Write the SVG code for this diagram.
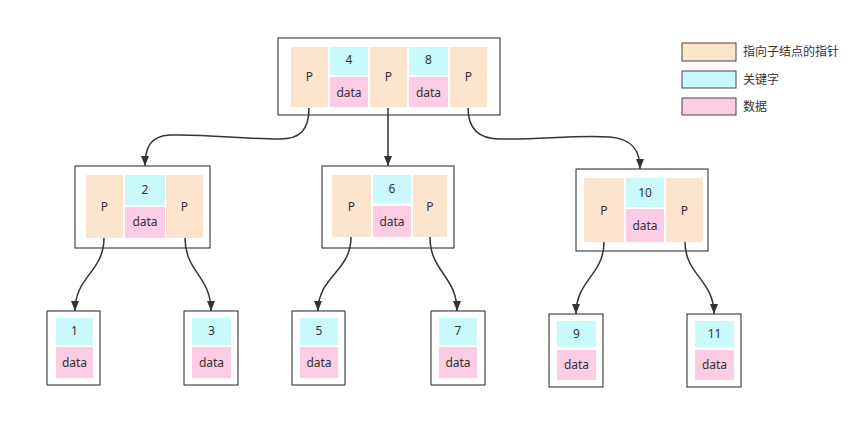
<svg xmlns="http://www.w3.org/2000/svg" width="857" height="437" viewBox="0 0 857 437">
<defs>
<style>
.box{fill:#ffffff;stroke:#222;stroke-width:1}
.p{fill:#fde4cd}
.k{fill:#c9f9fb}
.d{fill:#fbcce3}
.t{font-family:"Noto Sans","Noto Sans CJK SC",sans-serif;font-size:12px;fill:#333;text-anchor:middle}
.lt{font-family:"Noto Sans CJK SC","Noto Sans",sans-serif;font-size:12px;fill:#333}
.lg{stroke:#444;stroke-width:1}
.e{fill:none;stroke:#333;stroke-width:1.5}
</style>
<marker id="arr" markerUnits="userSpaceOnUse" markerWidth="10" markerHeight="10" viewBox="0 0 10 10" refX="10" refY="5" orient="auto">
<path d="M0,1 L10,5 L0,9 z" fill="#333"/>
</marker>
</defs>
<rect width="857" height="437" fill="#ffffff"/>

<g id="legend">
<rect class="p lg" x="682" y="43" width="54" height="18"/>
<text class="lt" x="743" y="56">指向子结点的指针</text>
<rect class="k lg" x="682" y="71" width="54" height="17"/>
<text class="lt" x="743" y="84">关键字</text>
<rect class="d lg" x="682" y="98" width="54" height="17"/>
<text class="lt" x="743" y="111">数据</text>
</g>

<g id="root">
<rect class="box" x="278" y="38" width="222" height="77"/>
<rect class="p" x="291" y="47" width="37" height="60"/>
<rect class="k" x="330" y="47" width="38" height="28"/>
<rect class="d" x="330" y="77" width="38" height="30"/>
<rect class="p" x="370" y="47" width="37" height="60"/>
<rect class="k" x="409" y="47" width="39" height="28"/>
<rect class="d" x="409" y="77" width="39" height="30"/>
<rect class="p" x="450" y="47" width="37" height="60"/>
<text class="t" x="309.5" y="81">P</text>
<text class="t" x="349" y="64">4</text>
<text class="t" x="349" y="97">data</text>
<text class="t" x="388.5" y="81">P</text>
<text class="t" x="428.5" y="64">8</text>
<text class="t" x="428.5" y="97">data</text>
<text class="t" x="468.5" y="81">P</text>
</g>

<g id="node2">
<rect class="box" x="75" y="166" width="135" height="82"/>
<rect class="p" x="86" y="175" width="37" height="63"/>
<rect class="k" x="125" y="175" width="40" height="30"/>
<rect class="d" x="125" y="207" width="40" height="31"/>
<rect class="p" x="166" y="175" width="37" height="63"/>
<text class="t" x="104.5" y="211">P</text>
<text class="t" x="145" y="194">2</text>
<text class="t" x="145" y="226">data</text>
<text class="t" x="184.5" y="211">P</text>
</g>

<g id="node6">
<rect class="box" x="322" y="166" width="132" height="82"/>
<rect class="p" x="332" y="175" width="39" height="62"/>
<rect class="k" x="373" y="175" width="38" height="28"/>
<rect class="d" x="373" y="206" width="38" height="31"/>
<rect class="p" x="413" y="175" width="34" height="62"/>
<text class="t" x="351.5" y="211">P</text>
<text class="t" x="392" y="193">6</text>
<text class="t" x="392" y="226">data</text>
<text class="t" x="430" y="211">P</text>
</g>

<g id="node10">
<rect class="box" x="576" y="169" width="132" height="82"/>
<rect class="p" x="584" y="178" width="40" height="64"/>
<rect class="k" x="626" y="178" width="38" height="29"/>
<rect class="d" x="626" y="209" width="38" height="33"/>
<rect class="p" x="666" y="178" width="37" height="64"/>
<text class="t" x="604" y="215">P</text>
<text class="t" x="645" y="197">10</text>
<text class="t" x="645" y="230">data</text>
<text class="t" x="684.5" y="215">P</text>
</g>

<g id="leaf1">
<rect class="box" x="47" y="311" width="53" height="74"/>
<rect class="k" x="56" y="318" width="37" height="27"/>
<rect class="d" x="56" y="347" width="37" height="31"/>
<text class="t" x="74.5" y="335">1</text>
<text class="t" x="74.5" y="367">data</text>
</g>

<g id="leaf3">
<rect class="box" x="184" y="311" width="54" height="74"/>
<rect class="k" x="192" y="318" width="39" height="27"/>
<rect class="d" x="192" y="347" width="39" height="31"/>
<text class="t" x="211.5" y="335">3</text>
<text class="t" x="211.5" y="367">data</text>
</g>

<g id="leaf5">
<rect class="box" x="292" y="311" width="53" height="74"/>
<rect class="k" x="300" y="318" width="38" height="27"/>
<rect class="d" x="300" y="347" width="38" height="31"/>
<text class="t" x="319" y="335">5</text>
<text class="t" x="319" y="367">data</text>
</g>

<g id="leaf7">
<rect class="box" x="431" y="311" width="54" height="74"/>
<rect class="k" x="439" y="318" width="38" height="27"/>
<rect class="d" x="439" y="347" width="38" height="31"/>
<text class="t" x="458" y="335">7</text>
<text class="t" x="458" y="367">data</text>
</g>

<g id="leaf9">
<rect class="box" x="549" y="314" width="54" height="73"/>
<rect class="k" x="557" y="321" width="39" height="26"/>
<rect class="d" x="557" y="350" width="39" height="30"/>
<text class="t" x="576.5" y="338">9</text>
<text class="t" x="576.5" y="369">data</text>
</g>

<g id="leaf11">
<rect class="box" x="687" y="314" width="54" height="73"/>
<rect class="k" x="695" y="321" width="39" height="26"/>
<rect class="d" x="695" y="350" width="39" height="30"/>
<text class="t" x="714.5" y="338">11</text>
<text class="t" x="714.5" y="369">data</text>
</g>

<g id="connectors">
<path class="e" marker-end="url(#arr)" d="M309,108 C309,130 300,139 280,139 C240,139 210,134 170,135 C150,136 145,148 145,166"/>
<path class="e" marker-end="url(#arr)" d="M388,108 L388,166"/>
<path class="e" marker-end="url(#arr)" d="M468,108 C468,130 480,139 500,139 C540,140 570,135 610,137 C632,139 640,150 640,169"/>
<path class="e" marker-end="url(#arr)" d="M104,238 C104,272 75,276 75,311"/>
<path class="e" marker-end="url(#arr)" d="M185,238 C185,272 211,276 211,311"/>
<path class="e" marker-end="url(#arr)" d="M351,237 C351,272 318,276 318,311"/>
<path class="e" marker-end="url(#arr)" d="M430,237 C430,272 457,276 457,311"/>
<path class="e" marker-end="url(#arr)" d="M604,242 C604,275 576,280 576,314"/>
<path class="e" marker-end="url(#arr)" d="M685,242 C685,275 714,280 714,314"/>
</g>
</svg>
